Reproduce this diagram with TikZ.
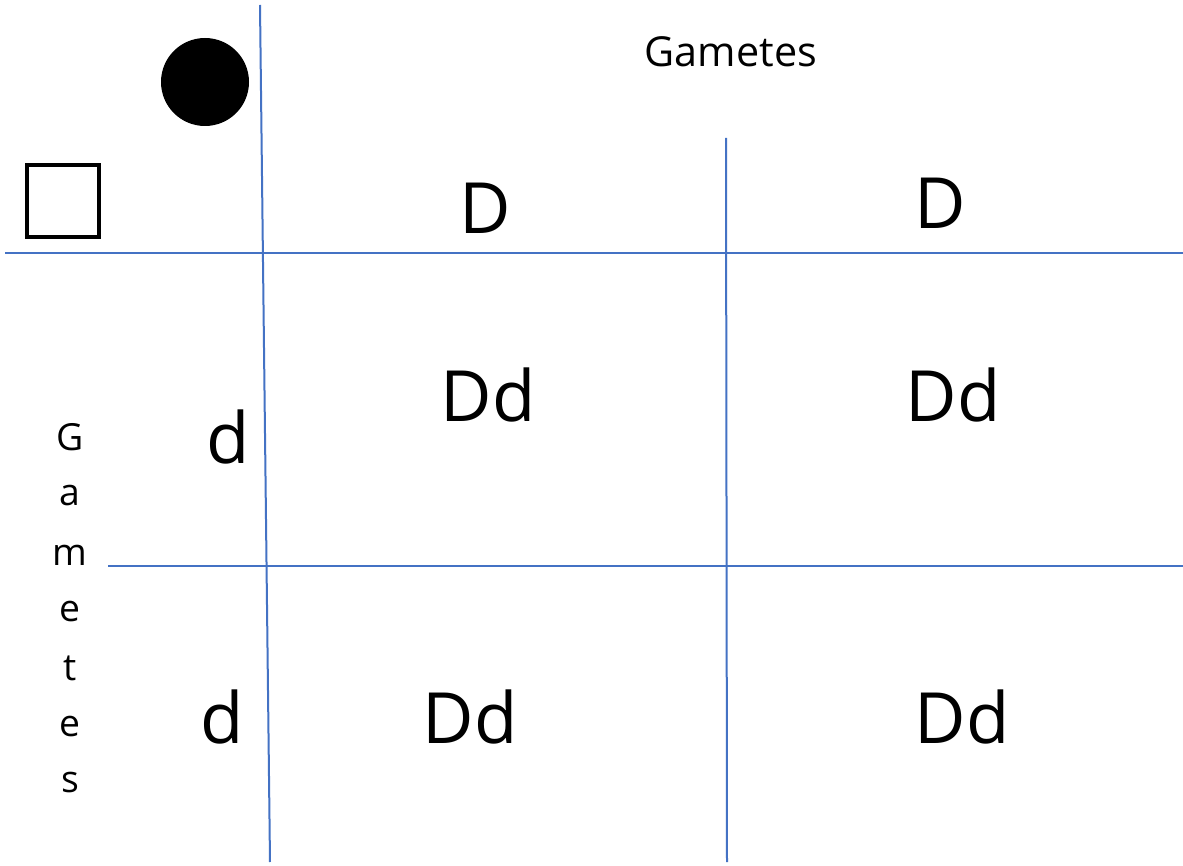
\documentclass[tikz,border=0pt]{standalone}
\usepackage{fontspec}
\setmainfont{Open Sans}
\definecolor{gridblue}{HTML}{4472C4}
\begin{document}
\begin{tikzpicture}[x=0.75pt,y=-0.75pt,
  gridline/.style={draw=gridblue,line width=1.5pt},
  big/.style={font=\fontsize{53}{58}\selectfont,inner sep=0pt},
  mid/.style={font=\fontsize{31}{36}\selectfont,inner sep=0pt},
  small/.style={font=\fontsize{28}{32}\selectfont,inner sep=0pt}]
\useasboundingbox[fill=white] (0,0) rectangle (1183,866);
% grid lines
\coordinate (v1t) at (260,5); \coordinate (v1b) at (270,862);
\coordinate (v2t) at (726,138); \coordinate (v2b) at (727,862);
\coordinate (h1l) at (5,253); \coordinate (h1r) at (1183,253);
\coordinate (h2l) at (108,566); \coordinate (h2r) at (1183,566);
\draw[gridline] (v1t) -- (v1b);
\draw[gridline] (v2t) -- (v2b);
\draw[gridline] (h1l) -- (h1r);
\draw[gridline] (h2l) -- (h2r);
% symbols
\node[circle,fill=black,minimum size=66pt,inner sep=0pt] (female) at (205,82) {};
\node[draw=black,line width=3pt,minimum size=54pt,inner sep=0pt] (male) at (63,201) {};
% labels
\node[mid] (gtop) at (731,52) {Gametes};
\node[big] (D1) at (485,208) {D};
\node[big] (D2) at (940,203) {D};
\node[big] (d1) at (228,437) {d};
\node[big] (d2) at (222,717) {d};
\node[big] (c11) at (488,395) {Dd};
\node[big] (c12) at (953,395) {Dd};
\node[big] (c21) at (470,717) {Dd};
\node[big] (c22) at (962,717) {Dd};
% vertical Gametes
\node[small] (g1) at (70,437) {G};
\node[small] (g2) at (70,496) {a};
\node[small] (g3) at (70,555) {m};
\node[small] (g4) at (70,612) {e};
\node[small] (g5) at (70,668) {t};
\node[small] (g6) at (70,727) {e};
\node[small] (g7) at (70,783) {s};
\end{tikzpicture}
\end{document}
